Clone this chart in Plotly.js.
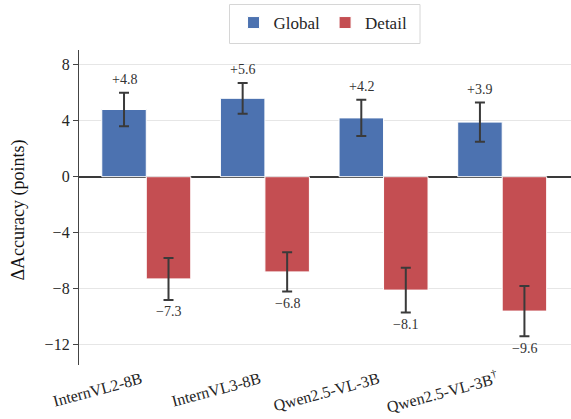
<!DOCTYPE html>
<html>
<head>
<meta charset="utf-8">
<script src="https://cdn.plot.ly/plotly-3.0.1.min.js"></script>
</head>
<body style="margin:0;background:#fff">
<div id="chart" style="width:571px;height:419px"></div>
<script>
const models = ["InternVL2-8B", "InternVL3-8B", "Qwen2.5-VL-3B", "Qwen2.5-VL-3B<sup>†</sup>"];
const globalVals = [4.8, 5.6, 4.2, 3.9];
const globalErr = [1.2, 1.1, 1.3, 1.4];
const detailVals = [-7.3, -6.8, -8.1, -9.6];
const detailErr = [1.5, 1.4, 1.6, 1.8];
const yTicks = [-12, -8, -4, 0, 4, 8];
const yTitle = "\u0394Accuracy (points)";

const FONT = "Liberation Serif";
const BLUE = "#4C72B0", RED = "#C44E52", ERR = "#3a3a3a";
const bargap = 0.25;
const off = (1 - bargap) / 4;

function fmt(v) {
  const s = Math.abs(v).toFixed(1);
  return (v < 0 ? "\u2212" : "+") + s;
}

const traces = [
  {type: "bar", name: "Global", x: models, y: globalVals,
   marker: {color: BLUE, line: {color: "white", width: 1}},
   error_y: {type: "data", array: globalErr, visible: true, color: ERR, thickness: 2, width: 5}},
  {type: "bar", name: "Detail", x: models, y: detailVals,
   marker: {color: RED, line: {color: "white", width: 1}},
   error_y: {type: "data", array: detailErr, visible: true, color: ERR, thickness: 2, width: 5}}
];

const annotations = [];
globalVals.forEach((v, i) => annotations.push({
  x: i - off, y: v + globalErr[i], xref: "x", yref: "y", text: fmt(v),
  showarrow: false, yanchor: "middle", yshift: 13,
  font: {family: FONT, size: 14, color: "#333"}
}));
detailVals.forEach((v, i) => annotations.push({
  x: i + off, y: v - detailErr[i], xref: "x", yref: "y", text: fmt(v),
  showarrow: false, yanchor: "middle", yshift: -12,
  font: {family: FONT, size: 14, color: "#333"}
}));
annotations.push({
  xref: "paper", yref: "paper", x: (18 - 79) / 492, y: (365 - 210.5) / 315,
  text: yTitle, textangle: -90, showarrow: false, xanchor: "center", yanchor: "middle",
  font: {family: FONT, size: 18, color: "#111"}
});

const layout = {
  width: 571, height: 419,
  margin: {l: 79, r: 0, t: 50, b: 54},
  paper_bgcolor: "white", plot_bgcolor: "white",
  font: {family: FONT, color: "#262626"},
  barmode: "group", bargap: bargap, bargroupgap: 0,
  showlegend: true,
  legend: {orientation: "h", x: 0.496, xanchor: "center", y: 1 - 23 / 419, yref: "container", yanchor: "middle",
           borderwidth: 0, bgcolor: "rgba(0,0,0,0)",
           font: {family: FONT, size: 17, color: "#262626"}, traceorder: "normal"},
  shapes: [{type: "rect", xref: "paper", yref: "paper",
            x0: (229.5 - 79) / 492, x1: (420 - 79) / 492,
            y0: (365 - 43.5) / 315, y1: (365 - 4.5) / 315,
            line: {color: "#d6d6d6", width: 1}, fillcolor: "white", layer: "below"}],
  xaxis: {type: "category", range: [-0.567, 3.58], showgrid: false, showline: false,
          zeroline: false, ticks: "", tickangle: -15, automargin: false,
          ticksuffix: "\u2004",
          tickfont: {family: FONT, size: 16, color: "#262626"}},
  yaxis: {range: [-13.45, 9.05], tickvals: yTicks, showgrid: true, gridcolor: "#e6e6e6", gridwidth: 1,
          zeroline: true, zerolinecolor: "#3a3a3a", zerolinewidth: 1.7,
          showline: true, linecolor: "#444", linewidth: 1.3,
          ticks: "outside", ticklen: 5, tickcolor: "#444", tickwidth: 1.3,
          ticksuffix: "\u2002\u2005",
          automargin: false,
          tickfont: {family: FONT, size: 16, color: "#262626"}},
  annotations: annotations
};

Plotly.newPlot("chart", traces, layout, {displayModeBar: false});
</script>
</body>
</html>
